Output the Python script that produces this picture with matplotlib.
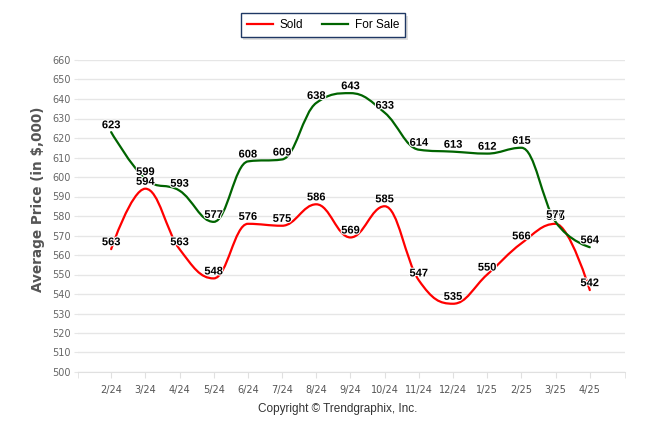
import matplotlib
matplotlib.use("Agg")
import matplotlib.pyplot as plt
from matplotlib.path import Path
from matplotlib.patches import PathPatch
from matplotlib.lines import Line2D
import matplotlib.patheffects as pe
import numpy as np

months = ["2/24", "3/24", "4/24", "5/24", "6/24", "7/24", "8/24", "9/24",
          "10/24", "11/24", "12/24", "1/25", "2/25", "3/25", "4/25"]
sold = [563, 594, 563, 548, 576, 575, 586, 569, 585, 547, 535, 550, 566, 576, 542]
for_sale = [623, 599, 593, 577, 608, 609, 638, 643, 633, 614, 613, 612, 615, 577, 564]
y_ticks = list(range(500, 661, 10))

RED = "#FF0000"
GREEN = "#006400"


def spline_path(xs, ys, smoothing=1.5):
    n = len(xs)
    denom = smoothing + 1
    left = [(xs[i], ys[i]) for i in range(n)]
    right = [(xs[i], ys[i]) for i in range(n)]
    for i in range(1, n - 1):
        lx, ly = xs[i - 1], ys[i - 1]
        nx, ny = xs[i + 1], ys[i + 1]
        px, py = xs[i], ys[i]
        lcx = (smoothing * px + lx) / denom
        lcy = (smoothing * py + ly) / denom
        rcx = (smoothing * px + nx) / denom
        rcy = (smoothing * py + ny) / denom
        if rcx != lcx:
            corr = ((rcy - lcy) * (rcx - px)) / (rcx - lcx) + py - rcy
            lcy += corr
            rcy += corr
        if lcy > ly and lcy > py:
            lcy = max(ly, py); rcy = 2 * py - lcy
        elif lcy < ly and lcy < py:
            lcy = min(ly, py); rcy = 2 * py - lcy
        if rcy > ny and rcy > py:
            rcy = max(ny, py); lcy = 2 * py - rcy
        elif rcy < ny and rcy < py:
            rcy = min(ny, py); lcy = 2 * py - rcy
        left[i] = (lcx, lcy)
        right[i] = (rcx, rcy)
    verts = [(xs[0], ys[0])]
    codes = [Path.MOVETO]
    for i in range(1, n):
        verts += [right[i - 1], left[i], (xs[i], ys[i])]
        codes += [Path.CURVE4] * 3
    return Path(verts, codes)


fig = plt.figure(figsize=(6.46, 4.34), dpi=100)
ax = fig.add_axes([78 / 646, 1 - 372 / 434, (625 - 78) / 646, (372 - 60) / 434])

x = np.arange(len(months))
for series, color in [(sold, RED), (for_sale, GREEN)]:
    path = spline_path(list(x.astype(float)), [float(v) for v in series])
    ax.add_patch(PathPatch(path, facecolor="none", edgecolor=color, lw=1.6,
                           capstyle="round", joinstyle="round", zorder=3))

for series in [sold, for_sale]:
    for xi, v in zip(x, series):
        ax.annotate(str(v), (xi, v), xytext=(0, 5), textcoords="offset points",
                    ha="center", va="center", fontsize=8, fontweight="bold",
                    family="Liberation Sans", color="black", zorder=5,
                    path_effects=[pe.withStroke(linewidth=1.5, foreground="white")])

ax.set_xlim(-0.97, 15.03)
ax.set_ylim(500, 660)
ax.set_yticks(y_ticks)
ax.set_yticklabels([str(t) for t in y_ticks])
ax.set_xticks(x)
ax.set_xticklabels(months)
ax.set_xticks([-0.97, 15.03], minor=True)

ax.grid(axis="y", color="#e6e6e6", lw=1)
ax.set_axisbelow(True)
for s in ["top", "right", "left"]:
    ax.spines[s].set_visible(False)
ax.spines["bottom"].set_color("#e0e0e0")
ax.tick_params(axis="y", length=3, color="#e6e6e6", pad=2, labelsize=7,
               labelcolor="#666666")
ax.tick_params(axis="x", which="both", length=4, color="#e0e0e0", pad=5,
               labelsize=7, labelcolor="#555555")
for lbl in ax.get_xticklabels() + ax.get_yticklabels():
    lbl.set_family("DejaVu Sans")

fig.text(38 / 646, 1 - 199 / 434, "Average Price (in $,000)", rotation=90,
         ha="center", va="center", fontsize=9.8, fontweight="bold",
         color="#555555", family="DejaVu Sans")

fig.text(338 / 646, 1 - 409 / 434, "Copyright \u00a9 Trendgraphix, Inc.",
         ha="center", va="center", fontsize=8.5, color="#333333",
         family="Liberation Sans")

handles = [Line2D([], [], color=RED, lw=1.6), Line2D([], [], color=GREEN, lw=1.6)]
leg = fig.legend(handles, ["Sold", "For Sale"], loc="center",
                 bbox_to_anchor=(323 / 646, 1 - 25 / 434), ncol=2,
                 frameon=True, fancybox=False,
                 shadow={"facecolor": "#cccccc", "edgecolor": "none", "alpha": 0.6},
                 prop={"family": "Liberation Sans", "size": 8.5},
                 handlelength=2.2, handletextpad=0.6, columnspacing=1.6,
                 borderpad=0.5)
leg.get_frame().set_edgecolor("#1f3864")
leg.get_frame().set_linewidth(1.0)

fig.savefig("out.png", dpi=100)
